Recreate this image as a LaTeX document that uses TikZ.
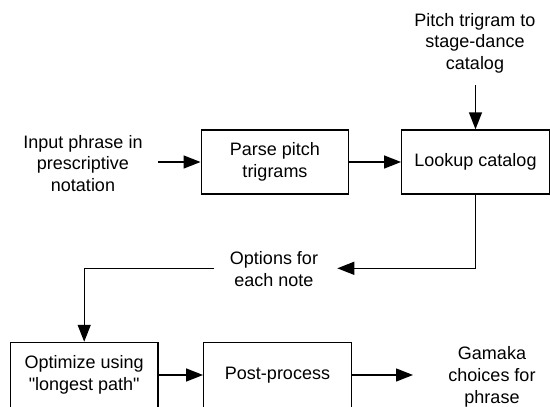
\documentclass[tikz,border=0pt]{standalone}
\usepackage{fontspec}
\setmainfont{Liberation Sans}[Ligatures=TeXOff]
\usetikzlibrary{arrows.meta}
\newcommand\labfont{\fontsize{18}{21.7}\selectfont}
\begin{document}
\begin{tikzpicture}[x=1pt,y=-1pt,
  box/.style={draw,line width=1.4pt,minimum width=147.5pt,minimum height=64pt,inner sep=0pt,align=center,font=\labfont},
  lbl/.style={align=center,font=\labfont,inner sep=0pt},
  arr/.style={line width=1.4pt,-{Triangle[length=17pt,width=13pt]}}]
\useasboundingbox (0,0) rectangle (550,407);
\node[box] (parse) at (275,162) {Parse pitch\\trigrams};
\node[box] (lookup) at (475.5,162) {Lookup catalog};
\node[box,minimum height=65pt] (opt) at (84.2,375) {Optimize using\\"longest path"};
\node[box,minimum height=65pt] (post) at (277.5,375) {Post-process};
\node[lbl] (in) at (83,163.3) {Input phrase in\\prescriptive\\notation};
\node[lbl] (cat) at (475,43.3) {Pitch trigram to\\stage-dance\\catalog};
\node[lbl] (opts) at (274,269.2) {Options for\\each note};
\node[lbl] (gam) at (492,376.7) {Gamaka\\choices for\\phrase};
\coordinate (a1) at (158,162);
\coordinate (a2) at (475.5,85);
\coordinate (a3) at (337.3,268.3);
\coordinate (a4) at (214,268.3);
\coordinate (a5) at (413,375);
\draw[arr] (a1) -- (parse.west);
\draw[arr] (parse) -- (lookup);
\draw[arr] (a2) -- (lookup.north);
\draw[arr] (lookup.south) |- (a3);
\draw[arr] (a4) -| (opt.north);
\draw[arr] (opt) -- (post);
\draw[arr] (post) -- (a5);
\end{tikzpicture}
\end{document}
